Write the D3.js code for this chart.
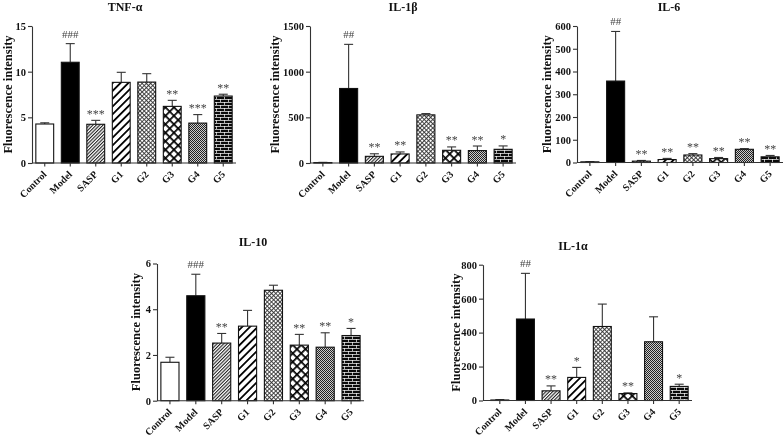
<!DOCTYPE html>
<html><head><meta charset="utf-8">
<script src="https://cdn.jsdelivr.net/npm/d3@7"></script>
<style>body{margin:0;background:#fff}svg{display:block;will-change:transform}</style>
</head><body>
<svg id="chart" width="784" height="439"></svg>
<script>
// ---------- data ----------
const categories = ["Control","Model","SASP","G1","G2","G3","G4","G5"];
const patternsByGroup = ["pControl","pModel","pSASP","pG1","pG2","pG3","pG4","pG5"];

const tnfMean = [4.27, 11.03, 4.24, 8.83, 8.86, 6.2, 4.37, 7.33];
const tnfSem  = [0.13, 2.04, 0.43, 1.1, 0.92, 0.66, 0.93, 0.2];
const tnfSig  = ["", "###", "***", "", "", "**", "***", "**"];
const tnfTicks = [0, 5, 10, 15];

const il1bMean = [5, 816, 73, 99, 527, 139, 136, 150];
const il1bSem  = [2, 483, 28, 22, 14, 37, 50, 37];
const il1bSig  = ["", "##", "**", "**", "", "**", "**", "*"];
const il1bTicks = [0, 500, 1000, 1500];

const il6Mean = [3, 358, 6, 13, 33, 17, 58, 25];
const il6Sem  = [1, 218, 3, 5, 6, 5, 3, 6];
const il6Sig  = ["", "##", "**", "**", "**", "**", "**", "**"];
const il6Ticks = [0, 100, 200, 300, 400, 500, 600];

const il10Mean = [1.68, 4.59, 2.52, 3.26, 4.83, 2.43, 2.34, 2.85];
const il10Sem  = [0.22, 0.94, 0.42, 0.69, 0.22, 0.47, 0.63, 0.31];
const il10Sig  = ["", "###", "**", "", "", "**", "**", "*"];
const il10Ticks = [0, 2, 4, 6];

const il1aMean = [3, 480, 57, 136, 436, 41, 346, 83];
const il1aSem  = [2, 269, 29, 59, 132, 4, 147, 13];
const il1aSig  = ["", "##", "**", "*", "", "**", "", "*"];
const il1aTicks = [0, 200, 400, 600, 800];

// ---------- layout (positions only) ----------
const panels = [
  {title:"TNF-α", mean:tnfMean, sem:tnfSem, sig:tnfSig, ticks:tnfTicks,
   axisX:32, bandL:32, bandR:236, yTop:26, yBot:163, titleX:125, titleY:11, labX:8},
  {title:"IL-1β", mean:il1bMean, sem:il1bSem, sig:il1bSig, ticks:il1bTicks,
   axisX:310, bandL:310, bandR:516, yTop:26, yBot:163, titleX:403, titleY:11, labX:275},
  {title:"IL-6", mean:il6Mean, sem:il6Sem, sig:il6Sig, ticks:il6Ticks,
   axisX:577, bandL:577, bandR:783, yTop:26, yBot:162.5, titleX:669, titleY:11, labX:547},
  {title:"IL-10", mean:il10Mean, sem:il10Sem, sig:il10Sig, ticks:il10Ticks,
   axisX:157, bandL:157, bandR:364, yTop:263.5, yBot:400.7, titleX:253, titleY:246, labX:136},
  {title:"IL-1α", mean:il1aMean, sem:il1aSem, sig:il1aSig, ticks:il1aTicks,
   axisX:483, bandL:487, bandR:692, yTop:264.7, yBot:400.5, titleX:573, titleY:250, labX:456}
];

const svg = d3.select("#chart");
const defs = svg.append("defs");
const serif = "'Liberation Serif','Times New Roman',serif";

// ---------- patterns ----------
function pat(id, w, h, rot){
  const p = defs.append("pattern").attr("id", id).attr("patternUnits","userSpaceOnUse")
    .attr("width", w).attr("height", h);
  if (rot) p.attr("patternTransform", "rotate(" + rot + ")");
  return p;
}
pat("pControl",4,4).append("rect").attr("width",4).attr("height",4).attr("fill","#fff");
pat("pModel",4,4).append("rect").attr("width",4).attr("height",4).attr("fill","#000");
{ const p = pat("pSASP",2.4,2.4,45);
  p.append("rect").attr("width",2.4).attr("height",2.4).attr("fill","#fff");
  p.append("rect").attr("width",1.1).attr("height",2.4).attr("fill","#222"); }
{ const p = pat("pG1",5.5,5.5,45);
  p.append("rect").attr("width",5.5).attr("height",5.5).attr("fill","#fff");
  p.append("rect").attr("width",1.8).attr("height",5.5).attr("fill","#000"); }
{ const p = pat("pG2",3,3,45);
  p.append("rect").attr("width",3).attr("height",3).attr("fill","#fff");
  p.append("rect").attr("width",0.9).attr("height",3).attr("fill","#333");
  p.append("rect").attr("width",3).attr("height",0.9).attr("fill","#333"); }
{ const p = pat("pG3",6,6,45);
  p.append("rect").attr("width",6).attr("height",6).attr("fill","#fff");
  p.append("rect").attr("width",1.7).attr("height",6).attr("fill","#000");
  p.append("rect").attr("width",6).attr("height",1.7).attr("fill","#000"); }
{ const p = pat("pG4",2,2);
  p.append("rect").attr("width",2).attr("height",2).attr("fill","#ccc");
  p.append("rect").attr("width",1).attr("height",1).attr("fill","#222");
  p.append("rect").attr("x",1).attr("y",1).attr("width",1).attr("height",1).attr("fill","#222"); }
{ const p = pat("pG5",8,6);
  p.append("rect").attr("width",8).attr("height",6).attr("fill","#0a0a0a");
  p.append("rect").attr("y",0).attr("width",8).attr("height",0.7).attr("fill","#fff");
  p.append("rect").attr("y",3).attr("width",8).attr("height",0.7).attr("fill","#fff");
  p.append("rect").attr("x",0).attr("y",0).attr("width",0.7).attr("height",3).attr("fill","#fff");
  p.append("rect").attr("x",4).attr("y",3).attr("width",0.7).attr("height",3).attr("fill","#fff"); }

// ---------- draw panels ----------
panels.forEach(P => {
  const g = svg.append("g");
  const x = d3.scaleBand().domain(categories).range([P.bandL, P.bandR])
    .paddingInner(0.3).paddingOuter(0.15);
  const y = d3.scaleLinear().domain([0, d3.max(P.ticks)]).range([P.yBot, P.yTop]);
  const data = categories.map((c, i) => ({c, m:P.mean[i], s:P.sem[i], sig:P.sig[i], fill:patternsByGroup[i]}));

  // error bars (upper only)
  const cap = 4.5;
  data.forEach(d => {
    const cx = x(d.c) + x.bandwidth()/2;
    g.append("line").attr("x1",cx).attr("x2",cx).attr("y1",y(d.m)).attr("y2",y(d.m+d.s))
      .attr("stroke","#333").attr("stroke-width",1.1);
    g.append("line").attr("x1",cx-cap).attr("x2",cx+cap).attr("y1",y(d.m+d.s)).attr("y2",y(d.m+d.s))
      .attr("stroke","#333").attr("stroke-width",1.1);
  });

  // bars
  g.selectAll("rect.bar").data(data).enter().append("rect").attr("class","bar")
    .attr("x", d => x(d.c)).attr("width", x.bandwidth())
    .attr("y", d => y(d.m)).attr("height", d => Math.max(0.5, P.yBot - y(d.m)))
    .attr("fill", d => "url(#" + d.fill + ")")
    .attr("stroke","#111").attr("stroke-width",1.1);

  // significance marks
  g.selectAll("text.sig").data(data.filter(d => d.sig)).enter().append("text")
    .attr("x", d => x(d.c) + x.bandwidth()/2)
    .attr("y", d => y(d.m + d.s) - (d.sig[0] === "#" ? 6 : 2.5))
    .attr("text-anchor","middle").attr("font-family",serif).attr("font-size",
      d => d.sig[0] === "#" ? 11 : 12)
    .attr("fill","#444").text(d => d.sig);

  // y axis
  const ya = g.append("g").attr("transform","translate(" + P.axisX + ",0)")
    .call(d3.axisLeft(y).tickValues(P.ticks).tickFormat(d3.format("d"))
      .tickSize(4).tickSizeOuter(0).tickPadding(2));
  ya.select(".domain").attr("stroke","#333").attr("stroke-width",1.1);
  ya.selectAll(".tick line").attr("stroke","#333").attr("stroke-width",1.1);
  ya.selectAll(".tick text").attr("font-family",serif).attr("font-weight","bold")
    .attr("font-size",10.5).attr("fill","#111");

  // x axis
  const xa = g.append("g").attr("transform","translate(0," + P.yBot + ")")
    .call(d3.axisBottom(x).tickSize(3.5).tickSizeOuter(0));
  xa.select(".domain").attr("stroke","#333").attr("stroke-width",1.1)
    .attr("d", "M" + P.axisX + ",0H" + P.bandR);
  xa.selectAll(".tick line").attr("stroke","#333").attr("stroke-width",1.1);
  xa.selectAll(".tick text").attr("font-family",serif).attr("font-weight","bold")
    .attr("font-size",10).attr("fill","#111")
    .attr("x",0).attr("y",0).attr("dy",0)
    .attr("text-anchor","end")
    .attr("transform","translate(2.5,12) rotate(-45)");

  // title
  g.append("text").attr("x",P.titleX).attr("y",P.titleY).attr("text-anchor","middle")
    .attr("font-family",serif).attr("font-weight","bold").attr("font-size",12)
    .attr("fill","#111").text(P.title);

  // y label
  g.append("text").attr("transform","translate(" + P.labX + "," + ((P.yTop + P.yBot)/2) + ") rotate(-90)")
    .attr("text-anchor","middle").attr("dy","0.35em")
    .attr("font-family",serif).attr("font-weight","bold").attr("font-size",12.5)
    .attr("fill","#111").text("Fluorescence intensity");
});
</script>
</body></html>
